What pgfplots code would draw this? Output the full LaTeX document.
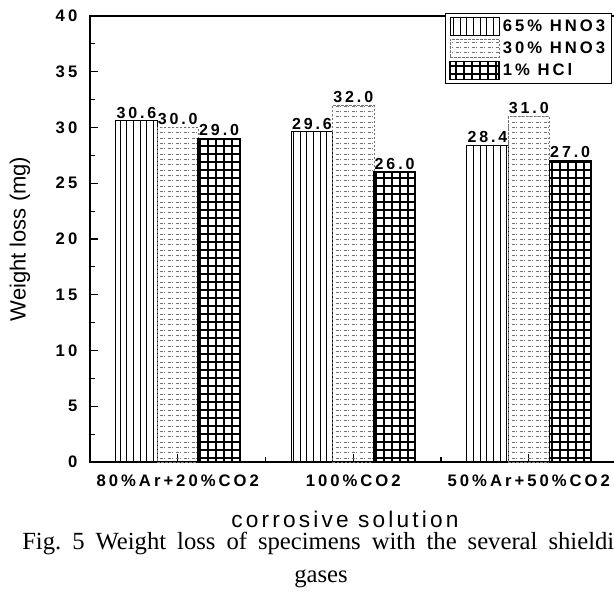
\documentclass[border=0pt]{standalone}
\usepackage{fontspec}
\setmainfont{Liberation Sans}
\newfontfamily\tickfont{Liberation Sans}[LetterSpace=18]
\newfontfamily\labfont{Liberation Sans}[LetterSpace=14]
\newfontfamily\capfont{Liberation Serif}
\usepackage{pgfplots}
\usepackage{pgfplotstable}
\pgfplotsset{compat=1.18}
\usetikzlibrary{patterns,patterns.meta}
\frenchspacing

\pgfdeclarepatternformonly{hdash}{\pgfpoint{-1pt}{-1pt}}{\pgfpoint{7pt}{5pt}}{\pgfpoint{6pt}{4pt}}{%
  \pgfsetlinewidth{0.45pt}%
  \pgfpathmoveto{\pgfpoint{0pt}{2pt}}\pgfpathlineto{\pgfpoint{4pt}{2pt}}\pgfusepath{stroke}}

\pgfplotstableread{
x a b c
0 30.6 30.0 29.0
1 29.6 32.0 26.0
2 28.4 31.0 27.0
}\data

\begin{document}
\begin{tikzpicture}
\path[use as bounding box] (0,0) rectangle (460.5pt,445.5pt);
\clip (0,0) rectangle (460.5pt,445.5pt);
\begin{axis}[
  scale only axis,
  width=394.9pt, height=334.5pt,
  at={(67.5pt,99pt)}, anchor=south west,
  xmin=-0.5, xmax=2.5, ymin=0, ymax=40,
  ybar=0pt, bar width=31pt,
  xtick={0,1,2},
  xticklabels={80\%Ar+20\%CO2,100\%CO2,50\%Ar+50\%CO2},
  minor xtick={0.5,1.5},
  ytick={0,5,...,40},
  minor ytick={2.5,7.5,...,37.5},
  xtick pos=bottom, ytick pos=left,
  tick align=inside,
  major tick length=6pt, minor tick length=3.5pt,
  axis line style={line width=1pt},
  every tick/.style={black, line width=0.8pt},
  /pgf/number format/assume math mode=true,
  xticklabel style={font=\tickfont\bfseries\fontsize{12.5}{14}\selectfont, yshift=-6pt},
  yticklabel style={font=\tickfont\bfseries\fontsize{12.5}{14}\selectfont, xshift=-6pt},
  ylabel={Weight loss (mg)},
  ylabel style={font=\fontsize{16.5}{19}\selectfont, at={(axis description cs:-0.133,0.5)}, anchor=center},
  xlabel={corrosive solution},
  xlabel style={font=\labfont\fontsize{17}{20}\selectfont, at={(axis description cs:0.4843,-0.146)}, anchor=base, inner sep=0pt},
  nodes near coords={\pgfmathprintnumber[fixed,fixed zerofill,precision=1,assume math mode=true]{\pgfplotspointmeta}},
  every node near coord/.append style={black, font=\tickfont\bfseries\fontsize{12}{13}\selectfont, inner sep=1.5pt},
  legend image code/.code={\draw[#1] (0pt,-6.5pt) rectangle (37pt,7pt);},
  legend style={at={(0.991,1.007)}, anchor=north east, draw=black, line width=0.9pt,
    font=\tickfont\bfseries\fontsize{12.5}{14}\selectfont, cells={anchor=west},
    row sep=2pt, inner sep=2.5pt},
]
\addplot[draw=black, line width=0.7pt, pattern={Lines[angle=90,distance=5pt,line width=0.7pt]}] table[x=x,y=a]{\data};
\addplot[draw=black!55, dash pattern=on 2pt off 1pt, line width=0.5pt, pattern=hdash, pattern color=black!55] table[x=x,y=b]{\data};
\addplot[draw=black, line width=1.4pt, pattern={Hatch[distance=6pt,line width=1.2pt]}] table[x=x,y=c]{\data};
\legend{65\% HNO3,30\% HNO3,1\% HCl}
\end{axis}
\node[anchor=base west, inner sep=0pt, font=\capfont\fontsize{18.5}{20}\selectfont] at (16.5pt,33.75pt)
  {\makebox[444pt][s]{Fig. 5 Weight loss of specimens with the several shieldi}};
\node[anchor=base, inner sep=0pt, font=\capfont\fontsize{18.5}{20}\selectfont] at (240.75pt,9pt) {gases};
\end{tikzpicture}
\end{document}
